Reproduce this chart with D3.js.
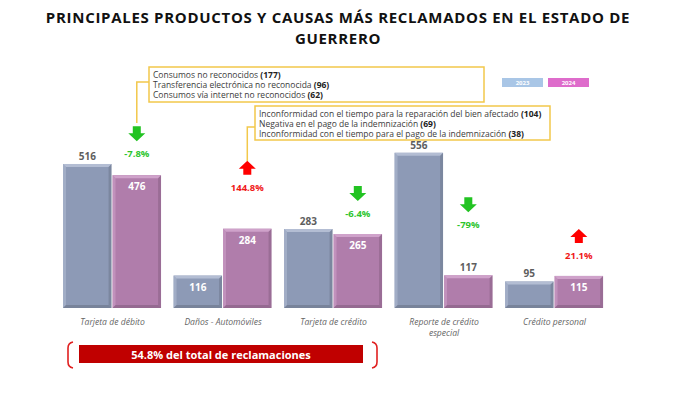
<!DOCTYPE html>
<html>
<head>
<meta charset="utf-8">
<script src="https://cdn.jsdelivr.net/npm/d3@7"></script>
<style>
  html, body { margin: 0; padding: 0; background: #fff; }
  svg { display: block; font-family: 'Open Sans', sans-serif; }
</style>
</head>
<body>
<div id="chart"></div>
<script>
// --- data ---
const categories = ['Tarjeta de débito', 'Daños - Automóviles', 'Tarjeta de crédito', 'Reporte de crédito especial', 'Crédito personal'];
const categoryLines = [['Tarjeta de débito'], ['Daños - Automóviles'], ['Tarjeta de crédito'], ['Reporte de crédito', 'especial'], ['Crédito personal']];
const years = ['2023', '2024'];
const values2023 = [516, 116, 283, 556, 95];
const values2024 = [476, 284, 265, 117, 115];
const inside2023 = [false, true, false, false, false];
const inside2024 = [true, true, true, false, true];
const changes = ['-7.8%', '144.8%', '-6.4%', '-79%', '21.1%'];
const changeUp = [false, true, false, false, true];
const callout1 = [['Consumos no reconocidos ', '(177)'], ['Transferencia electrónica no reconocida ', '(96)'], ['Consumos vía internet no reconocidos ', '(62)']];
const callout2 = [['Inconformidad con el tiempo para la reparación del bien afectado ', '(104)'], ['Negativa en el pago de la indemnización ', '(69)'], ['Inconformidad con el tiempo para el pago de la indemnización ', '(38)']];
const totalLabel = '54.8% del total de reclamaciones';

// layout-only: how far above the 2024 bar the % label sits (px)
const changeOffset = [18, 38, 17, 47, 17];

const width = 675, height = 395;
const baseY = 308;
const colors = { '2023': '#8d9ab6', '2024': '#b07dab' };
const tops = { '2023': '#b3bdd3', '2024': '#cfa2ca' };
const legendColors = { '2023': '#a9c6e6', '2024': '#de6ccb' };

const svg = d3.select('#chart').append('svg').attr('width', width).attr('height', height);

// title
svg.append('text').attr('x', 338).attr('y', 23).attr('text-anchor', 'middle')
  .attr('font-size', 15).attr('font-weight', 700).attr('fill', '#111').attr('letter-spacing', 0.7)
  .text('PRINCIPALES PRODUCTOS Y CAUSAS MÁS RECLAMADOS EN EL ESTADO DE');
svg.append('text').attr('x', 338).attr('y', 44).attr('text-anchor', 'middle')
  .attr('font-size', 15).attr('font-weight', 700).attr('fill', '#111').attr('letter-spacing', 0.7)
  .text('GUERRERO');

const x0 = d3.scaleBand().domain(categories).range([57.5, 609.6]).paddingInner(0.104).paddingOuter(0.05);
const x1 = d3.scaleBand().domain(years).range([0, x0.bandwidth()]);
const y = d3.scaleLinear().domain([0, 600]).range([baseY, baseY - 600 * 0.2791]);

const rows = categories.map((c, i) => ({
  cat: c, i,
  bars: [
    { year: '2023', v: values2023[i], inside: inside2023[i] },
    { year: '2024', v: values2024[i], inside: inside2024[i] }
  ]
}));

const groups = svg.append('g').selectAll('g').data(rows).join('g')
  .attr('transform', d => `translate(${x0(d.cat)},0)`);

const bar = groups.selectAll('g.bar').data(d => d.bars).join('g').attr('class', 'bar');
const bw = x1.bandwidth() - 1;
const bev = 3;

bar.append('rect')
  .attr('x', d => x1(d.year)).attr('y', d => y(d.v))
  .attr('width', bw).attr('height', d => baseY - y(d.v))
  .attr('fill', d => colors[d.year]);
// top bevel
bar.append('path')
  .attr('d', d => {
    const xa = x1(d.year), ya = y(d.v);
    return `M${xa},${ya} H${xa + bw} L${xa + bw - bev},${ya + bev} H${xa + bev} Z`;
  })
  .attr('fill', d => tops[d.year]);
// left bevel
bar.append('path')
  .attr('d', d => {
    const xa = x1(d.year), ya = y(d.v);
    return `M${xa},${ya} L${xa + bev},${ya + bev} V${baseY - bev} L${xa},${baseY} Z`;
  })
  .attr('fill', d => tops[d.year]).attr('opacity', 0.55);
// right bevel
bar.append('path')
  .attr('d', d => {
    const xa = x1(d.year) + bw, ya = y(d.v);
    return `M${xa},${ya} L${xa - bev},${ya + bev} V${baseY - bev} L${xa},${baseY} Z`;
  })
  .attr('fill', '#000').attr('opacity', 0.12);
// bottom bevel
bar.append('path')
  .attr('d', d => {
    const xa = x1(d.year);
    return `M${xa},${baseY} L${xa + bev},${baseY - bev} H${xa + bw - bev} L${xa + bw},${baseY} Z`;
  })
  .attr('fill', '#000').attr('opacity', 0.15);

// value labels
bar.append('text')
  .attr('x', d => x1(d.year) + bw / 2)
  .attr('y', d => d.inside ? y(d.v) + 15 : y(d.v) - 4)
  .attr('text-anchor', 'middle').attr('font-size', 10).attr('font-weight', 700)
  .attr('fill', d => d.inside ? '#fff' : '#5e5e5e')
  .text(d => d.v);

// category labels
groups.append('text')
  .attr('x', x0.bandwidth() / 2).attr('y', 325)
  .attr('text-anchor', 'middle').attr('font-size', 8.6).attr('font-style', 'italic')
  .attr('fill', '#666')
  .selectAll('tspan').data(d => categoryLines[d.i]).join('tspan')
  .attr('x', x0.bandwidth() / 2).attr('dy', (d, k) => k ? 11 : 0).text(d => d);

// change labels and arrows
const chg = groups.append('g')
  .attr('transform', d => `translate(${x1('2024') + bw / 2},${y(values2024[d.i]) - changeOffset[d.i]})`);
chg.append('text').attr('text-anchor', 'middle').attr('font-size', 9.5).attr('font-weight', 700)
  .attr('fill', d => changeUp[d.i] ? '#f01818' : '#2ec52e')
  .text(d => changes[d.i]);
chg.append('path')
  .attr('d', d => changeUp[d.i]
    ? 'M0,-30 L8.5,-22 L4,-22 L4,-16 L-4,-16 L-4,-22 L-8.5,-22 Z'
    : 'M0,-16 L8.5,-24 L4,-24 L4,-31 L-4,-31 L-4,-24 L-8.5,-24 Z')
  .attr('fill', d => changeUp[d.i] ? '#ff0000' : '#22c322');

// callout boxes
const gold = '#f2c84b';
function callout(lines, bx, by, bwid, bh, tx, ty, leadY) {
  const g = svg.append('g');
  g.append('path').attr('d', `M${bx},${leadY} H${tx} V${ty}`)
    .attr('fill', 'none').attr('stroke', gold).attr('stroke-width', 1.5);
  g.append('rect').attr('x', bx).attr('y', by).attr('width', bwid).attr('height', bh)
    .attr('fill', '#fff').attr('stroke', gold).attr('stroke-width', 1.5);
  const t = g.selectAll('text').data(lines).join('text')
    .attr('x', bx + 4).attr('y', (d, k) => by + 10.5 + k * 10.2)
    .attr('font-size', 8.5).attr('fill', '#3c3c3c');
  t.append('tspan').text(d => d[0]);
  t.append('tspan').attr('font-weight', 700).attr('fill', '#222').text(d => d[1]);
}
callout(callout1, 149, 67, 335, 35, x0(categories[0]) + x1('2024') + bw / 2, 123, 82);
callout(callout2, 255, 106, 295, 34, x0(categories[1]) + x1('2024') + bw / 2, 161, 127);

// legend
const leg = svg.append('g').selectAll('g').data(years).join('g')
  .attr('transform', (d, i) => `translate(${502 + i * 46},78)`);
leg.append('rect').attr('width', 41).attr('height', 9).attr('fill', d => legendColors[d]);
leg.append('text').attr('x', 20.5).attr('y', 7).attr('text-anchor', 'middle')
  .attr('font-size', 6).attr('font-weight', 700).attr('fill', '#fff').text(d => d);

// bottom total banner
svg.append('rect').attr('x', 79).attr('y', 345).attr('width', 284).attr('height', 18).attr('fill', '#c00000');
svg.append('text').attr('x', 221).attr('y', 358.5).attr('text-anchor', 'middle')
  .attr('font-size', 11).attr('font-weight', 700).attr('fill', '#fff').text(totalLabel);
svg.append('path').attr('d', 'M73,342 Q68,343 68,348 V362 Q68,367 73,368')
  .attr('fill', 'none').attr('stroke', '#e02020').attr('stroke-width', 1.6);
svg.append('path').attr('d', 'M372,342 Q377,343 377,348 V362 Q377,367 372,368')
  .attr('fill', 'none').attr('stroke', '#e02020').attr('stroke-width', 1.6);
</script>
</body>
</html>
